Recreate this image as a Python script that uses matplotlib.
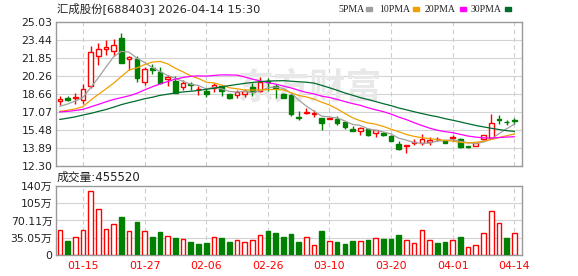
import matplotlib
matplotlib.use("Agg")
import matplotlib.pyplot as plt

plt.rcParams["font.family"] = ["DejaVu Sans", "Noto Sans CJK SC"]

# daily candles, 60 trading days ending 2026-04-14
opens = [18.02, 18.25, 18.25, 18.08, 19.32, 21.97, 22.65, 22.40, 23.58, 21.70,
         21.75, 19.72, 20.98, 20.60, 19.94, 19.81, 19.28, 19.50, 19.07, 18.92,
         19.13, 19.34, 18.63, 18.55, 18.63, 19.22, 18.93, 19.76, 19.32, 18.66,
         18.55, 16.58, 16.98, 16.86, 16.52, 16.46, 16.44, 16.15, 15.58, 15.36,
         15.52, 15.16, 15.21, 14.95, 14.21, 14.05, 14.33, 14.34, 14.39, 14.62,
         14.57, 14.75, 14.63, 14.00, 14.04, 14.63, 14.77, 16.42, 16.15, 16.30]
closes = [18.20, 18.07, 18.34, 19.08, 22.32, 22.59, 22.80, 22.96, 21.40, 21.88,
          20.03, 20.85, 20.72, 19.64, 20.11, 18.75, 19.58, 19.40, 19.12, 18.60,
          19.43, 18.92, 18.30, 18.82, 18.93, 18.84, 19.67, 19.70, 19.17, 18.30,
          16.84, 16.55, 17.00, 16.92, 16.09, 16.48, 16.10, 15.70, 15.37, 15.64,
          14.98, 15.45, 14.98, 14.50, 13.76, 14.10, 14.38, 14.66, 14.58, 14.64,
          14.33, 14.80, 13.92, 13.97, 14.27, 15.01, 16.04, 16.38, 16.12, 16.28]
highs = [18.43, 18.43, 18.70, 19.52, 22.85, 23.18, 23.42, 23.50, 24.06, 21.97,
         21.97, 21.00, 21.30, 21.00, 20.35, 20.25, 19.85, 19.73, 19.35, 19.15,
         19.65, 19.40, 18.66, 18.99, 19.05, 19.58, 20.11, 20.05, 19.50, 18.70,
         18.60, 17.10, 17.40, 17.20, 16.55, 16.50, 16.73, 16.18, 15.80, 15.72,
         15.55, 15.47, 15.25, 14.97, 14.48, 14.12, 14.62, 15.08, 14.86, 14.86,
         14.60, 15.00, 14.71, 14.06, 14.30, 15.05, 16.87, 16.78, 16.34, 16.48]
lows = [17.64, 17.98, 17.79, 17.75, 19.17, 21.17, 22.10, 22.00, 21.38, 20.80,
        19.72, 19.43, 20.40, 19.55, 19.35, 18.75, 19.00, 19.00, 18.55, 18.33,
        18.78, 18.42, 18.24, 18.32, 18.40, 18.46, 18.78, 18.90, 18.30, 18.25,
        16.70, 16.38, 16.90, 16.62, 15.45, 16.45, 15.90, 15.55, 15.35, 15.05,
        14.95, 14.86, 14.95, 14.48, 13.68, 13.45, 14.12, 14.12, 14.12, 14.46,
        14.30, 14.50, 13.83, 13.85, 14.00, 14.56, 14.77, 15.98, 15.90, 15.98]

ma5 = [17.55, 17.75, 18.02, 18.34, 19.20, 20.08, 21.03, 21.95, 22.41, 22.33,
       21.81, 21.42, 20.98, 20.62, 20.27, 20.01, 19.76, 19.50, 19.39, 19.09,
       19.23, 19.09, 18.87, 18.81, 18.88, 18.76, 18.91, 19.19, 19.26, 19.14,
       18.74, 18.11, 17.57, 17.12, 16.68, 16.61, 16.52, 16.26, 15.95, 15.86,
       15.56, 15.43, 15.28, 15.11, 14.73, 14.56, 14.34, 14.28, 14.30, 14.47,
       14.52, 14.60, 14.45, 14.33, 14.26, 14.39, 14.64, 15.13, 15.56, 15.97]
ma10 = [17.10, 17.20, 17.32, 17.52, 18.10, 18.60, 19.10, 19.60, 20.20, 20.76,
        20.95, 21.23, 21.46, 21.52, 21.30, 20.91, 20.59, 20.24, 20.01, 19.68,
        19.62, 19.43, 19.19, 19.10, 18.99, 18.99, 19.00, 19.03, 19.04, 19.01,
        18.75, 18.51, 18.38, 18.19, 17.91, 17.67, 17.32, 16.92, 16.54, 16.27,
        16.08, 15.97, 15.77, 15.53, 15.30, 15.06, 14.89, 14.78, 14.70, 14.60,
        14.54, 14.47, 14.37, 14.31, 14.37, 14.46, 14.62, 14.79, 14.95, 15.11]
ma20 = [17.05, 17.10, 17.18, 17.28, 17.50, 17.72, 17.95, 18.16, 18.32, 18.48,
        18.70, 19.00, 19.28, 19.52, 19.74, 19.95, 20.10, 20.20, 20.24, 20.22,
        20.28, 20.33, 20.32, 20.31, 20.14, 19.95, 19.80, 19.63, 19.52, 19.34,
        19.18, 18.97, 18.78, 18.65, 18.45, 18.33, 18.16, 17.97, 17.79, 17.64,
        17.42, 17.24, 17.08, 16.86, 16.60, 16.37, 16.10, 15.85, 15.62, 15.44,
        15.31, 15.22, 15.07, 14.92, 14.83, 14.76, 14.75, 14.79, 14.83, 14.86]
ma30 = [16.39, 16.50, 16.62, 16.78, 16.92, 17.10, 17.27, 17.48, 17.70, 17.88,
        18.04, 18.22, 18.35, 18.52, 18.62, 18.74, 18.82, 18.88, 18.95, 19.05,
        19.15, 19.28, 19.38, 19.48, 19.58, 19.66, 19.73, 19.78, 19.80, 19.82,
        19.77, 19.72, 19.68, 19.60, 19.40, 19.19, 18.97, 18.73, 18.53, 18.32,
        18.15, 17.97, 17.78, 17.61, 17.40, 17.24, 17.07, 16.91, 16.76, 16.63,
        16.46, 16.32, 16.17, 16.01, 15.86, 15.73, 15.61, 15.50, 15.40, 15.33]

# volume in 万手, colour flag 1 = up (red), 0 = down (green)
volumes = [50.1, 29.1, 35.9, 50.1, 130.0, 92.8, 52.1, 63.0, 77.2, 48.1,
           67.0, 48.1, 36.6, 46.7, 37.9, 34.5, 31.8, 26.4, 22.3, 24.4,
           35.9, 34.5, 26.4, 29.8, 26.4, 30.5, 39.9, 48.7, 44.7, 36.6,
           42.7, 26.4, 35.9, 19.6, 48.7, 28.4, 26.4, 22.3, 28.4, 28.4,
           30.5, 33.9, 32.5, 32.5, 40.6, 30.5, 24.4, 50.1, 30.5, 24.4,
           26.4, 30.5, 36.6, 15.6, 19.6, 44.7, 88.7, 65.0, 34.5, 45.552]
vol_up = [1, 0, 1, 1, 1, 1, 1, 1, 0, 1, 0, 1, 0, 0, 1, 0, 1, 0, 0, 0,
          1, 0, 0, 1, 1, 1, 1, 0, 0, 0, 0, 0, 1, 1, 0, 1, 0, 0, 0, 1,
          0, 1, 0, 0, 0, 1, 1, 1, 1, 0, 0, 1, 0, 1, 1, 1, 1, 1, 0, 1]

tick_pos = [3, 11, 19, 27, 35, 43, 51, 59]
tick_labels = ["01-15", "01-27", "02-06", "02-26", "03-10", "03-20", "04-01", "04-14"]
price_ticks = [12.30, 13.89, 15.48, 17.07, 18.66, 20.26, 21.85, 23.44, 25.03]
price_labels = ["12.30", "13.89", "15.48", "17.07", "18.66", "20.26", "21.85", "23.44", "25.03"]
vol_ticks = [0, 35.05, 70.11, 105.16, 140.21]
vol_labels = ["0", "35.05万", "70.11万", "105万", "140万"]

RED = "#ff0000"
GREEN = "#008000"
FRAME = "#999999"
W, H = 578, 276


def fx(px):
    return px / W


def fy(py):
    return 1 - py / H


fig = plt.figure(figsize=(W / 100, H / 100), dpi=100)
ax = fig.add_axes([fx(56), fy(165.7), fx(466), (165.7 - 21.7) / H])
axv = fig.add_axes([fx(56), fy(255), fx(466), (255 - 186) / H])

n = len(closes)
xs = list(range(n))

for a in (ax, axv):
    a.set_xlim(-0.5, 60)
    for s in a.spines.values():
        s.set_color(FRAME)
        s.set_linewidth(1)
    a.tick_params(length=0, labelsize=7.8, labelcolor="#222222", pad=2.5)
    for t in tick_pos:
        a.axvline(t, color="#cccccc", lw=0.8, ls=(0, (4, 3)), zorder=0)

# price panel
ax.set_ylim(price_ticks[0], price_ticks[-1])
ax.set_yticks(price_ticks)
ax.set_yticklabels(price_labels)
ax.set_xticks([])
for v in price_ticks[1:-1]:
    ax.axhline(v, color="#d3d3d3", lw=0.8, zorder=0)

ax.text(0.545, 0.54, "东方财富", transform=ax.transAxes, ha="center", va="center",
        fontsize=26, fontweight="bold", color="#e8e8e8", zorder=0.5,
        family=["Noto Sans CJK SC"])

for i in xs:
    o, c, h, l = opens[i], closes[i], highs[i], lows[i]
    up = c >= o
    col = RED if up else GREEN
    ax.vlines(i, l, h, color=col, lw=1, zorder=2)
    body = max(abs(c - o), 0.03)
    ax.bar(i, body, width=0.6, bottom=min(o, c), facecolor="white" if up else GREEN,
           edgecolor=col, linewidth=1, zorder=3)

ax.plot(xs, ma5, color="#a0a0a0", lw=0.9, zorder=4)
ax.plot(xs, ma10, color="#f0a000", lw=0.9, zorder=4)
ax.plot(xs, ma20, color="#ff00ff", lw=0.9, zorder=4)
ax.plot(xs, ma30, color="#006b2d", lw=0.9, zorder=4)

# volume panel
axv.set_ylim(0, vol_ticks[-1])
axv.set_yticks(vol_ticks)
axv.set_yticklabels(vol_labels)
axv.set_xticks(tick_pos)
axv.set_xticklabels(tick_labels, color=RED, fontsize=7.8)
axv.tick_params(axis="x", pad=4, labelcolor=RED)
for v in vol_ticks[1:-1]:
    axv.axhline(v, color="#d3d3d3", lw=0.8, zorder=0)
for i in xs:
    up = vol_up[i] == 1
    axv.bar(i, volumes[i], width=0.6, facecolor="white" if up else GREEN,
            edgecolor=RED if up else GREEN, linewidth=1, zorder=3)

# header texts
fig.text(fx(57), fy(8.5), "汇成股份[688403] 2026-04-14 15:30", fontsize=8.2,
         va="center", ha="left", color="#222222")
fig.text(fx(57), fy(177.5), "成交量:455520", fontsize=8.5, va="center",
         ha="left", color="#222222")

legend = [("5PMA", "#a0a0a0", 338, 366), ("10PMA", "#f0a000", 379, 413),
          ("20PMA", "#ff00ff", 425, 460), ("30PMA", "#006b2d", 471, 505)]
for name, col, x0, xs0 in legend:
    fig.text(fx(x0), fy(9), name, fontsize=7, va="center", ha="left",
             color="#222222", family=["Liberation Serif"])
    fig.patches.append(plt.Rectangle((fx(xs0), fy(11)), fx(6), 4 / H,
                                     transform=fig.transFigure, color=col))

fig.savefig("out.png", dpi=100)
